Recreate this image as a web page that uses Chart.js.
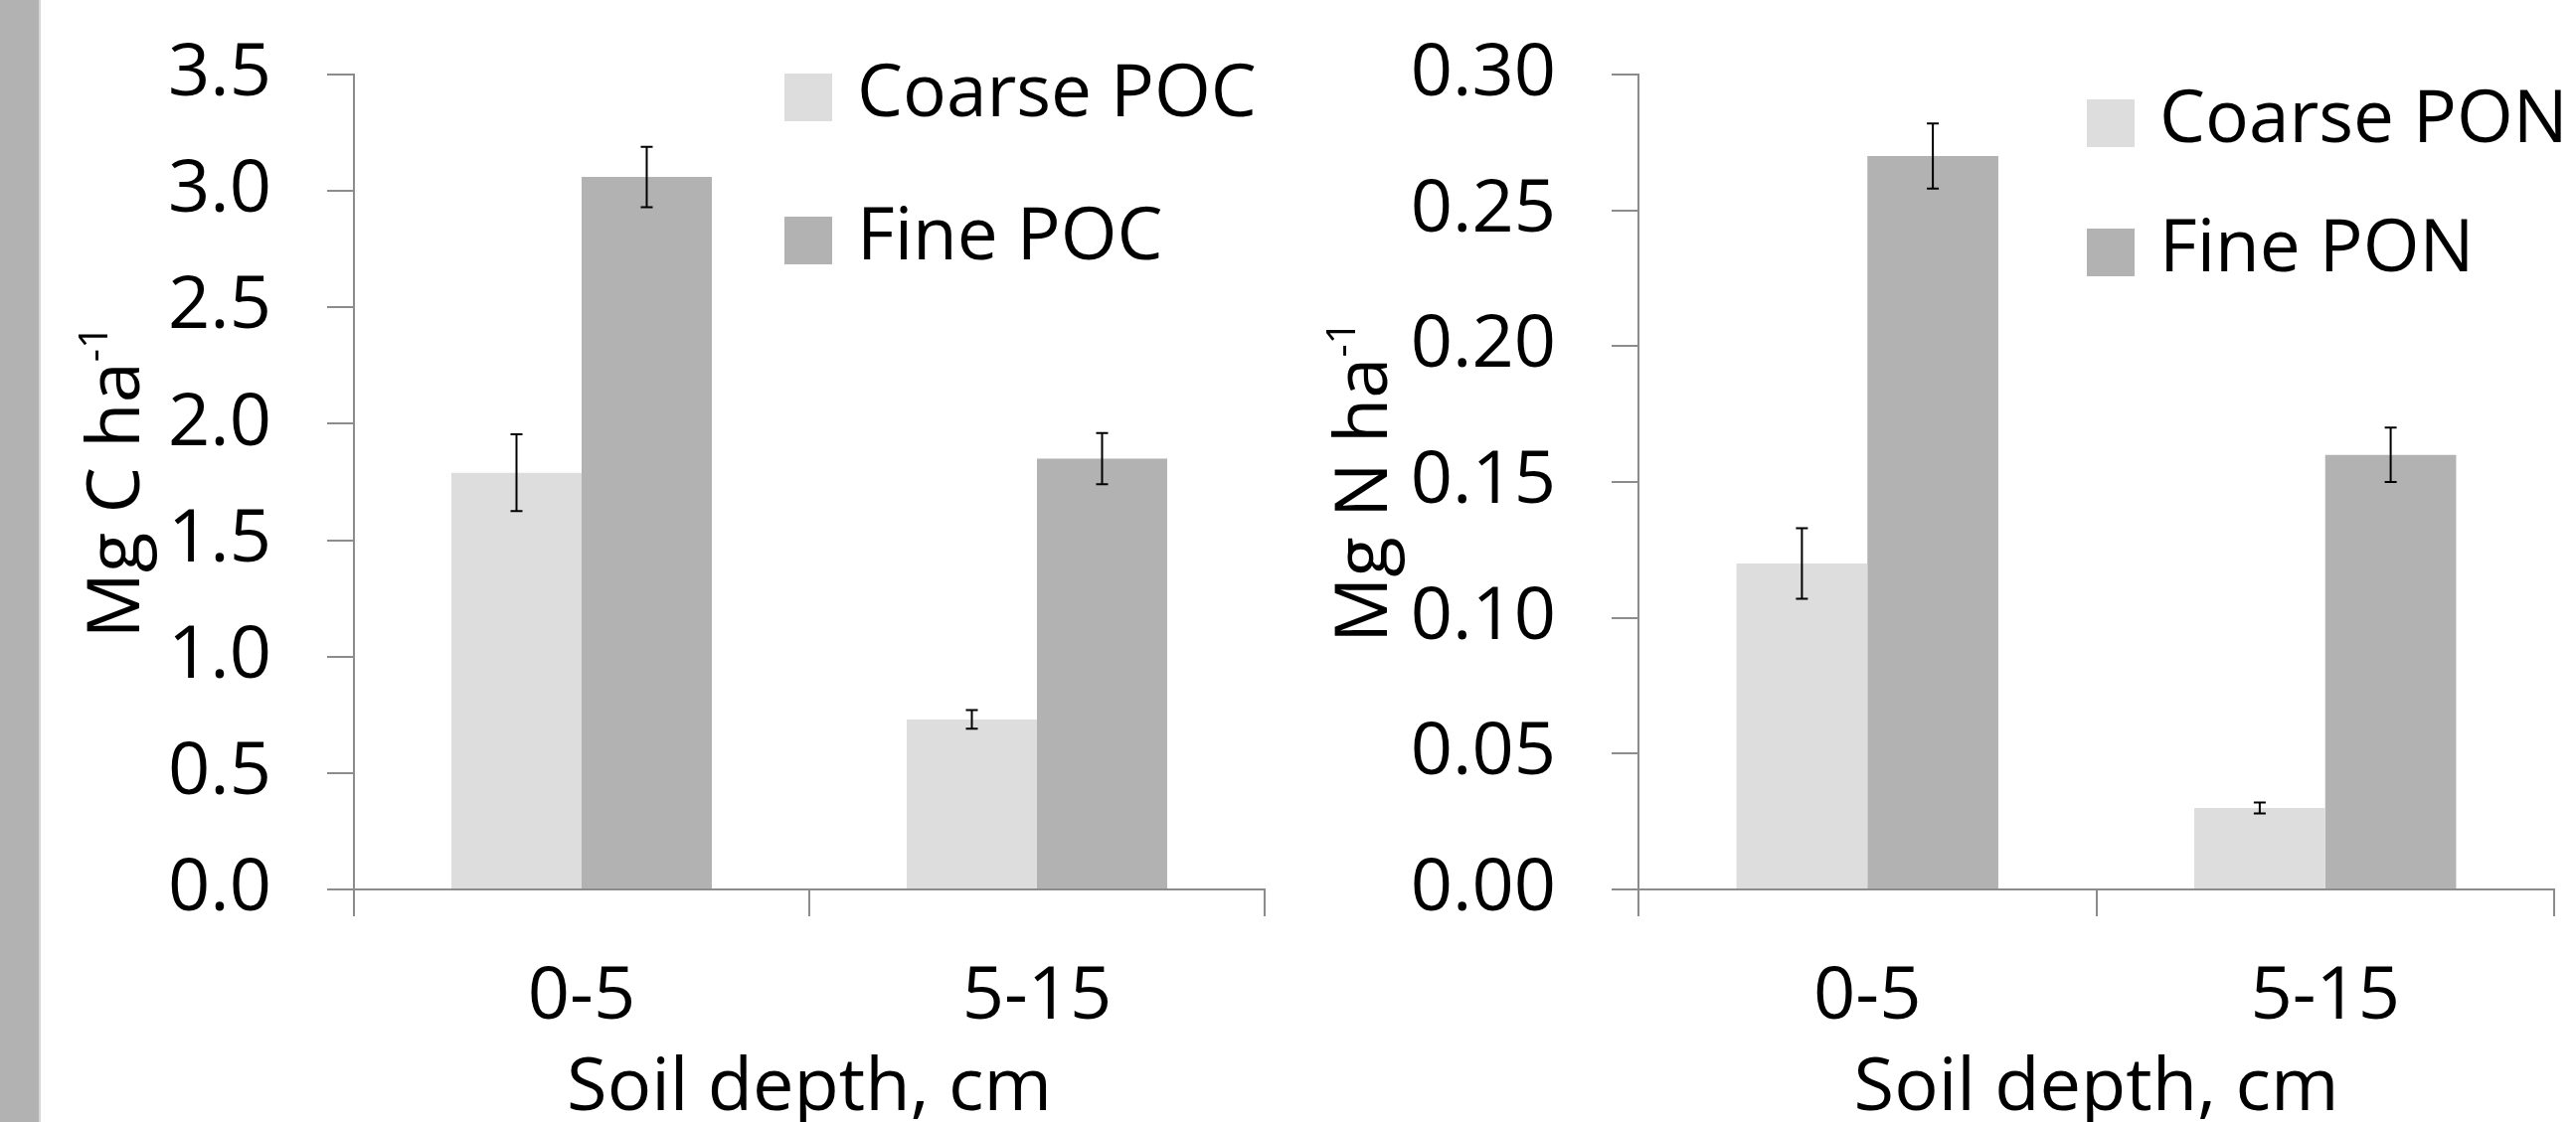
<!DOCTYPE html>
<html>
<head>
<meta charset="utf-8">
<script src="https://cdn.jsdelivr.net/npm/chart.js@4.4.0/dist/chart.umd.min.js"></script>
<style>
    html, body { margin: 0; padding: 0; background: #fff; overflow: hidden; }
    #strip { position: absolute; left: 0; top: 0; width: 39px; height: 1129px; background: #b2b2b2; border-right: 2px solid #d6d6d6; }
    .box { position: absolute; top: 0; height: 1129px; }
    #leftBox { left: 40px; width: 1260px; }
    #rightBox { left: 1300px; width: 1291px; }
</style>
</head>
<body>
<div id="strip"></div>
<div class="box" id="leftBox"><canvas id="pocChart"></canvas></div>
<div class="box" id="rightBox"><canvas id="ponChart"></canvas></div>
<script>
// Data
const depths = ['0-5', '5-15'];

const coarsePOC = [1.79, 0.73];
const finePOC = [3.06, 1.85];
const coarsePOCErr = [0.165, 0.04];
const finePOCErr = [0.13, 0.11];

const coarsePON = [0.120, 0.030];
const finePON = [0.270, 0.160];
const coarsePONErr = [0.013, 0.002];
const finePONErr = [0.012, 0.010];

const pocTicks = ['0.0', '0.5', '1.0', '1.5', '2.0', '2.5', '3.0', '3.5'];
const ponTicks = ['0.00', '0.05', '0.10', '0.15', '0.20', '0.25', '0.30'];

const COARSE = '#dddddd';
const FINE = '#b2b2b2';
const AXIS = '#8c8c8c';
const FONT = "'Open Sans', sans-serif";
const SIZE = 74;

Chart.defaults.font.family = FONT;
Chart.defaults.color = '#000';

// error bars drawn from each bar element
const errorBars = {
    id: 'errorBars',
    afterDatasetsDraw(chart) {
        const ctx = chart.ctx;
        const y = chart.scales.y;
        ctx.save();
        ctx.strokeStyle = '#000';
        ctx.lineWidth = 2;
        chart.data.datasets.forEach((ds, i) => {
            chart.getDatasetMeta(i).data.forEach((bar, j) => {
                const top = y.getPixelForValue(ds.data[j] + ds.errors[j]);
                const bot = y.getPixelForValue(ds.data[j] - ds.errors[j]);
                ctx.beginPath();
                ctx.moveTo(bar.x, top); ctx.lineTo(bar.x, bot);
                ctx.moveTo(bar.x - 6, top); ctx.lineTo(bar.x + 6, top);
                ctx.moveTo(bar.x - 6, bot); ctx.lineTo(bar.x + 6, bot);
                ctx.stroke();
            });
        });
        ctx.restore();
    }
};

// legend sitting inside the plot, top right
const boxLegend = {
    id: 'boxLegend',
    afterDraw(chart, args, opts) {
        const ctx = chart.ctx;
        ctx.save();
        ctx.font = '73px ' + FONT;
        ctx.textBaseline = 'middle';
        ctx.textAlign = 'left';
        chart.data.datasets.forEach((ds, i) => {
            const cy = opts.rows[i];
            ctx.fillStyle = ds.backgroundColor;
            ctx.fillRect(opts.x, cy - opts.box / 2, opts.box, opts.box);
            ctx.fillStyle = '#000';
            ctx.fillText(ds.label, opts.x + opts.box + 25, cy - 2);
        });
        ctx.restore();
    }
};

// rotated y title with superscript
const yTitle = {
    id: 'yTitle',
    afterDraw(chart, args, opts) {
        const ctx = chart.ctx;
        const area = chart.chartArea;
        ctx.save();
        ctx.translate(opts.x, (area.top + area.bottom) / 2);
        ctx.rotate(-Math.PI / 2);
        ctx.fillStyle = '#000';
        ctx.textBaseline = 'alphabetic';
        ctx.textAlign = 'left';
        ctx.font = SIZE + 'px ' + FONT;
        const w1 = ctx.measureText(opts.text).width;
        ctx.font = '41px ' + FONT;
        const w2 = ctx.measureText(opts.sup).width;
        const start = -(w1 + w2) / 2;
        ctx.font = SIZE + 'px ' + FONT;
        ctx.fillText(opts.text, start, 0);
        ctx.font = '41px ' + FONT;
        ctx.fillText(opts.sup, start + w1, -32);
        ctx.restore();
    }
};

function makeChart(id, labels, yMax, step, tickLabels, yWidth, padRight, title, legendOpts, titleX) {
    return new Chart(document.getElementById(id), {
        type: 'bar',
        data: {
            labels: depths,
            datasets: [
                { label: labels[0], data: labels[2], errors: labels[4], backgroundColor: COARSE },
                { label: labels[1], data: labels[3], errors: labels[5], backgroundColor: FINE }
            ]
        },
        options: {
            responsive: true,
            maintainAspectRatio: false,
            animation: false,
            categoryPercentage: 0.572,
            barPercentage: 1.0,
            layout: { padding: { top: 75, right: padRight, left: 0, bottom: 0 } },
            plugins: {
                legend: { display: false },
                tooltip: { enabled: false },
                boxLegend: legendOpts,
                yTitle: { x: titleX, text: title[0], sup: title[1] }
            },
            scales: {
                x: {
                    afterFit: s => { s.height = 234; s.paddingLeft = 0; s.paddingRight = 0; },
                    grid: {
                        offset: true,
                        drawOnChartArea: false,
                        tickLength: 27,
                        tickWidth: 2,
                        tickColor: AXIS,
                        color: AXIS,
                        lineWidth: 2
                    },
                    border: { color: AXIS, width: 2 },
                    ticks: { font: { size: SIZE, lineHeight: 1.2 }, padding: 38, maxRotation: 0 },
                    title: {
                        display: true,
                        text: 'Soil depth, cm',
                        font: { size: SIZE, lineHeight: 0.9 },
                        padding: { top: 0, bottom: 0 }
                    }
                },
                y: {
                    min: 0,
                    max: yMax,
                    afterFit: s => { s.width = yWidth; s.paddingTop = 0; s.paddingBottom = 0; },
                    grid: {
                        drawOnChartArea: false,
                        tickLength: 27,
                        tickWidth: 2,
                        tickColor: AXIS,
                        color: AXIS,
                        lineWidth: 2
                    },
                    border: { color: AXIS, width: 2 },
                    ticks: {
                        stepSize: step,
                        font: { size: SIZE },
                        padding: 56,
                        callback: (v, i) => tickLabels[i]
                    }
                }
            }
        },
        plugins: [errorBars, boxLegend, yTitle]
    });
}

makeChart('pocChart',
    ['Coarse POC', 'Fine POC', coarsePOC, finePOC, coarsePOCErr, finePOCErr],
    3.5, 0.5, pocTicks, 316, 28, ['Mg C ha', '-1'],
    { x: 749, rows: [98, 242], box: 48 }, 100);

makeChart('ponChart',
    ['Coarse PON', 'Fine PON', coarsePON, finePON, coarsePONErr, finePONErr],
    0.30, 0.05, ponTicks, 348, 22, ['Mg N ha', '-1'],
    { x: 799, rows: [124, 254], box: 48 }, 95);
</script>
</body>
</html>
